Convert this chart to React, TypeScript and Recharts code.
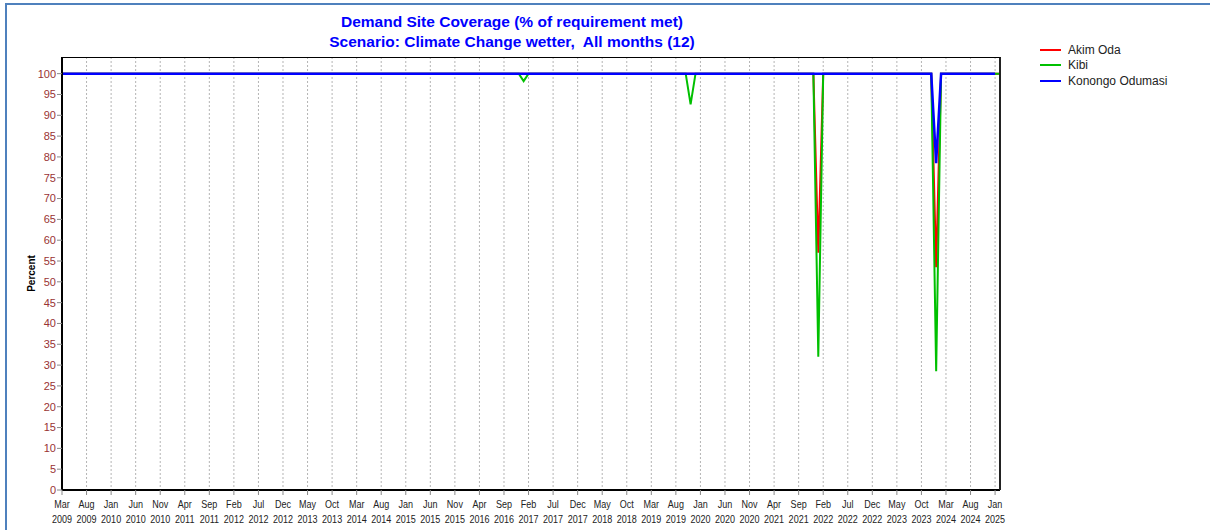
import React from 'react';
import { LineChart, Line, XAxis, YAxis, CartesianGrid } from 'recharts';

// month names, series run monthly Mar 2009 .. Feb 2025
const monthNames = ['Jan', 'Feb', 'Mar', 'Apr', 'May', 'Jun', 'Jul', 'Aug', 'Sep', 'Oct', 'Nov', 'Dec'];
const firstYear = 2009;
const firstMonth = 2; // Mar

// one row per year Mar..Feb
const akimOda: (number | null)[] = [
  100, 100, 100, 100, 100, 100, 100, 100, 100, 100, 100, 100, // 2009/10
  100, 100, 100, 100, 100, 100, 100, 100, 100, 100, 100, 100, // 2010/11
  100, 100, 100, 100, 100, 100, 100, 100, 100, 100, 100, 100, // 2011/12
  100, 100, 100, 100, 100, 100, 100, 100, 100, 100, 100, 100, // 2012/13
  100, 100, 100, 100, 100, 100, 100, 100, 100, 100, 100, 100, // 2013/14
  100, 100, 100, 100, 100, 100, 100, 100, 100, 100, 100, 100, // 2014/15
  100, 100, 100, 100, 100, 100, 100, 100, 100, 100, 100, 100, // 2015/16
  100, 100, 100, 100, 100, 100, 100, 100, 100, 100, 100, 100, // 2016/17
  100, 100, 100, 100, 100, 100, 100, 100, 100, 100, 100, 100, // 2017/18
  100, 100, 100, 100, 100, 100, 100, 100, 100, 100, 100, 100, // 2018/19
  100, 100, 100, 100, 100, 100, 100, 100, 100, 100, 100, 100, // 2019/20
  100, 100, 100, 100, 100, 100, 100, 100, 100, 100, 100, 100, // 2020/21
  100, 100, 100, 100, 100, 100, 100, 100, 100, 100, 57, 100, // 2021/22
  100, 100, 100, 100, 100, 100, 100, 100, 100, 100, 100, 100, // 2022/23
  100, 100, 100, 100, 100, 100, 100, 100, 100, 100, 53.5, 100, // 2023/24
  100, 100, 100, 100, 100, 100, 100, 100, 100, 100, 100, 100, // 2024/25
];

const kibi: (number | null)[] = [
  100, 100, 100, 100, 100, 100, 100, 100, 100, 100, 100, 100, // 2009/10
  100, 100, 100, 100, 100, 100, 100, 100, 100, 100, 100, 100, // 2010/11
  100, 100, 100, 100, 100, 100, 100, 100, 100, 100, 100, 100, // 2011/12
  100, 100, 100, 100, 100, 100, 100, 100, 100, 100, 100, 100, // 2012/13
  100, 100, 100, 100, 100, 100, 100, 100, 100, 100, 100, 100, // 2013/14
  100, 100, 100, 100, 100, 100, 100, 100, 100, 100, 100, 100, // 2014/15
  100, 100, 100, 100, 100, 100, 100, 100, 100, 100, 100, 100, // 2015/16
  100, 100, 100, 100, 100, 100, 100, 100, 100, 100, 98.2, 100, // 2016/17
  100, 100, 100, 100, 100, 100, 100, 100, 100, 100, 100, 100, // 2017/18
  100, 100, 100, 100, 100, 100, 100, 100, 100, 100, 100, 100, // 2018/19
  100, 100, 100, 100, 100, 100, 100, 100, 92.6, 100, 100, 100, // 2019/20
  100, 100, 100, 100, 100, 100, 100, 100, 100, 100, 100, 100, // 2020/21
  100, 100, 100, 100, 100, 100, 100, 100, 100, 100, 32, 100, // 2021/22
  100, 100, 100, 100, 100, 100, 100, 100, 100, 100, 100, 100, // 2022/23
  100, 100, 100, 100, 100, 100, 100, 100, 100, 100, 28.5, 100, // 2023/24
  100, 100, 100, 100, 100, 100, 100, 100, 100, 100, 100, 100, // 2024/25
];

const konongoOdumasi: (number | null)[] = [
  100, 100, 100, 100, 100, 100, 100, 100, 100, 100, 100, 100, // 2009/10
  100, 100, 100, 100, 100, 100, 100, 100, 100, 100, 100, 100, // 2010/11
  100, 100, 100, 100, 100, 100, 100, 100, 100, 100, 100, 100, // 2011/12
  100, 100, 100, 100, 100, 100, 100, 100, 100, 100, 100, 100, // 2012/13
  100, 100, 100, 100, 100, 100, 100, 100, 100, 100, 100, 100, // 2013/14
  100, 100, 100, 100, 100, 100, 100, 100, 100, 100, 100, 100, // 2014/15
  100, 100, 100, 100, 100, 100, 100, 100, 100, 100, 100, 100, // 2015/16
  100, 100, 100, 100, 100, 100, 100, 100, 100, 100, 100, 100, // 2016/17
  100, 100, 100, 100, 100, 100, 100, 100, 100, 100, 100, 100, // 2017/18
  100, 100, 100, 100, 100, 100, 100, 100, 100, 100, 100, 100, // 2018/19
  100, 100, 100, 100, 100, 100, 100, 100, 100, 100, 100, 100, // 2019/20
  100, 100, 100, 100, 100, 100, 100, 100, 100, 100, 100, 100, // 2020/21
  100, 100, 100, 100, 100, 100, 100, 100, 100, 100, 100, 100, // 2021/22
  100, 100, 100, 100, 100, 100, 100, 100, 100, 100, 100, 100, // 2022/23
  100, 100, 100, 100, 100, 100, 100, 100, 100, 100, 78.5, 100, // 2023/24
  100, 100, 100, 100, 100, 100, 100, 100, 100, 100, 100, null, // 2024/25
];

const yTicks = [0, 5, 10, 15, 20, 25, 30, 35, 40, 45, 50, 55, 60, 65, 70, 75, 80, 85, 90, 95, 100];

const seriesInfo = [
  { key: 'akimOda', name: 'Akim Oda', color: '#ff0000' },
  { key: 'kibi', name: 'Kibi', color: '#00c000' },
  { key: 'konongo', name: 'Konongo Odumasi', color: '#0000ff' },
];

const labels = akimOda.map((_, i) => {
  const m = firstMonth + i;
  return monthNames[m % 12] + ' ' + (firstYear + Math.floor(m / 12));
});
const xTicks = labels.filter((_, i) => i % 5 === 0);

const data = labels.map((label, i) => ({
  label,
  akimOda: akimOda[i],
  kibi: kibi[i],
  konongo: konongoOdumasi[i],
}));

const FONT = '"Liberation Sans", Arial, sans-serif';

// labels in the original are a condensed face, squeeze them a bit
const MonthTick = (props: any) => {
  const { x, y, payload } = props;
  const [mon, yr] = String(payload.value).split(' ');
  return (
    <g transform={`translate(${x},${y}) scale(0.86,1)`}>
      <text textAnchor="middle" fontSize={10.5} fill="#222" fontFamily={FONT} x={0} y={11}>{mon}</text>
      <text textAnchor="middle" fontSize={10.5} fill="#222" fontFamily={FONT} x={0} y={26}>{yr}</text>
    </g>
  );
};

const LegendBox = () => (
  <div style={{ position: 'absolute', left: 1040, top: 42, fontFamily: FONT, fontSize: 12, color: '#222' }}>
    {seriesInfo.map((s) => (
      <div key={s.key} style={{ display: 'flex', alignItems: 'center', height: 15.5 }}>
        <svg width={21} height={10} style={{ marginRight: 7 }}>
          <line x1={0} y1={5} x2={21} y2={5} stroke={s.color} strokeWidth={2} />
        </svg>
        <span>{s.name}</span>
      </div>
    ))}
  </div>
);

const App: React.FC = () => {
  return (
    <div style={{ position: 'absolute', left: 0, top: 0, width: 1210, height: 530, background: '#fff', overflow: 'hidden' }}>
      {/* frame lines at top and left */}
      <div style={{ position: 'absolute', left: 5, top: 3, width: 1205, height: 2, background: '#4f81bd' }} />
      <div style={{ position: 'absolute', left: 5, top: 3, width: 2, height: 527, background: '#4f81bd' }} />

      <div style={{ position: 'absolute', left: 0, width: 1024, top: 12, textAlign: 'center', fontFamily: FONT, fontWeight: 'bold', fontSize: 15.5, color: '#0000ff', lineHeight: '20px' }}>
        <div>Demand Site Coverage (% of requirement met)</div>
        <div>Scenario: Climate Change wetter,&nbsp; All months (12)</div>
      </div>

      <LineChart width={1210} height={530} data={data} margin={{ top: 57, right: 210, bottom: 5, left: 0 }}>
        <CartesianGrid horizontal={false} stroke="#b4b4b4" strokeDasharray="2 2" />
        <XAxis
          dataKey="label"
          ticks={xTicks}
          interval={0}
          height={35}
          tick={<MonthTick />}
          tickLine={{ stroke: '#888' }}
          tickSize={5}
          axisLine={{ stroke: '#000', strokeWidth: 2 }}
        />
        <YAxis
          width={62}
          domain={[0, 104]}
          ticks={yTicks}
          interval={0}
          tick={{ fill: '#993333', fontSize: 11, fontFamily: FONT }}
          tickLine={{ stroke: '#888' }}
          tickSize={5}
          tickMargin={1}
          axisLine={{ stroke: '#000', strokeWidth: 2 }}
          label={{ value: 'Percent', angle: -90, position: 'insideLeft', offset: 31, style: { fontFamily: FONT, fontWeight: 'bold', fontSize: 10, fill: '#000', textAnchor: 'middle' } }}
        />
        {seriesInfo.map((s) => (
          <Line
            key={s.key}
            type="linear"
            dataKey={s.key}
            name={s.name}
            stroke={s.color}
            strokeWidth={s.key === 'konongo' ? 2.5 : 2}
            dot={false}
            activeDot={false}
            isAnimationActive={false}
          />
        ))}
      </LineChart>

      <LegendBox />

      {/* top and right edge of the plot box */}
      <div style={{ position: 'absolute', left: 62, top: 57, width: 939, height: 433, borderTop: '1px solid #000', borderRight: '2px solid #222', boxSizing: 'border-box', pointerEvents: 'none' }} />
    </div>
  );
};

export default App;
